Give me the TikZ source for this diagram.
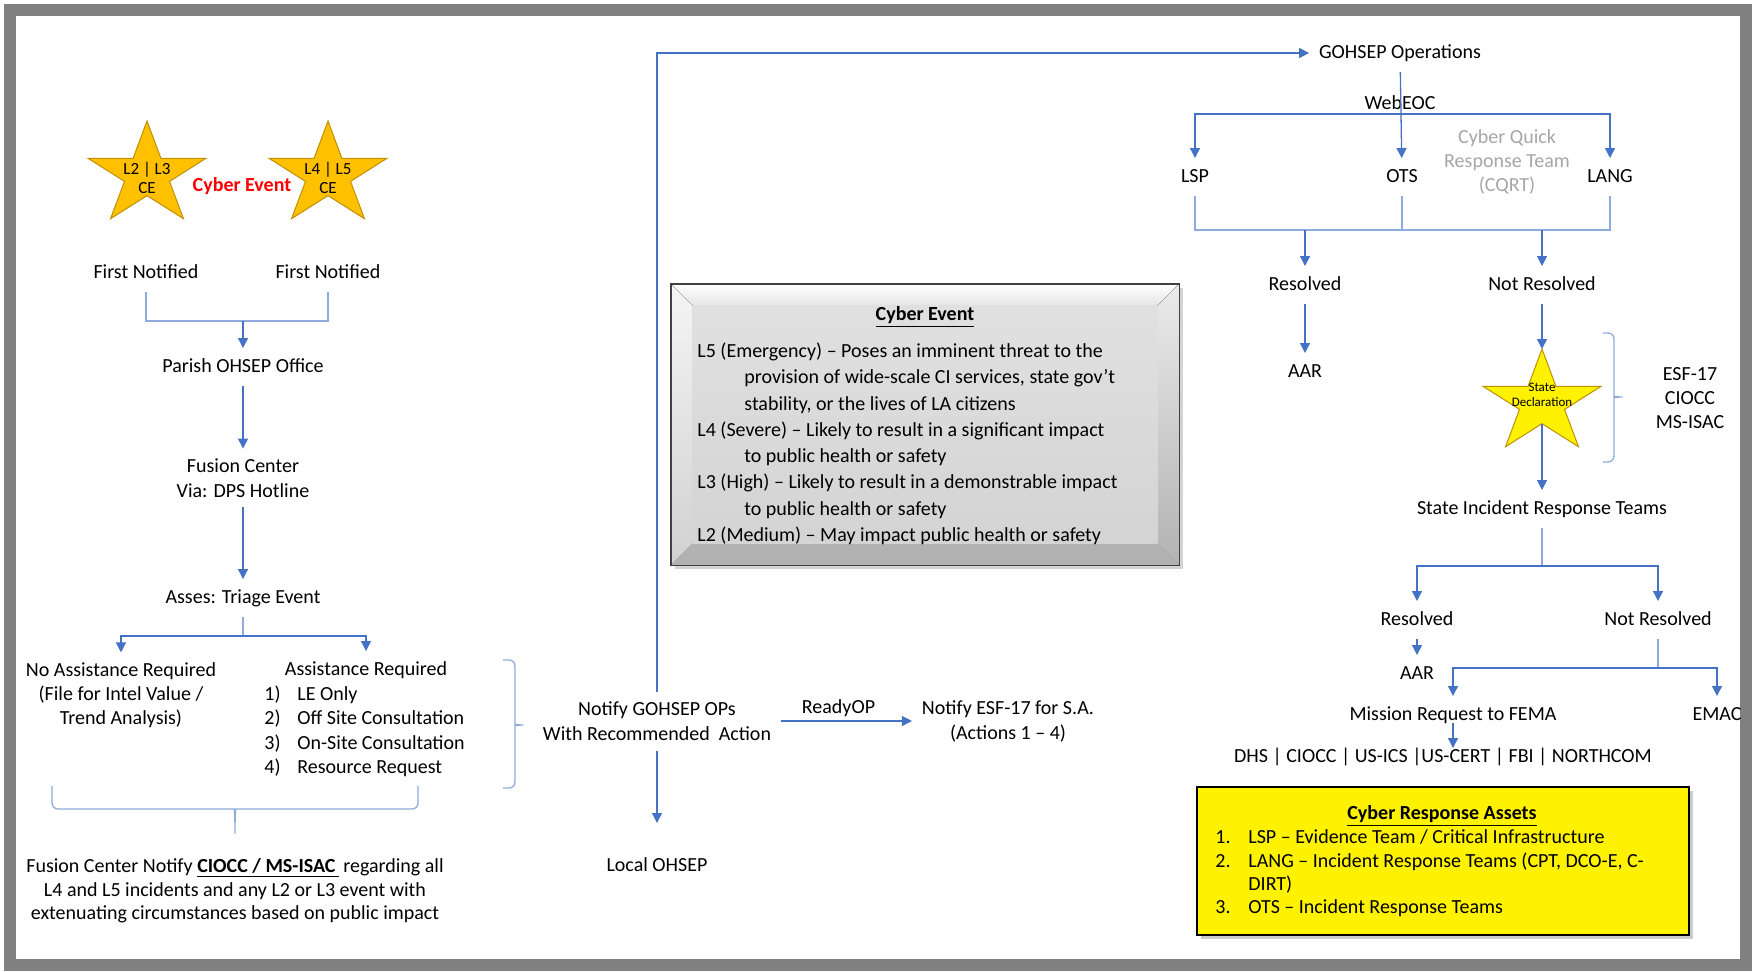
\documentclass[tikz,border=0pt]{standalone}
\usepackage{fontspec}
\setmainfont{Carlito}
\usetikzlibrary{arrows.meta,calc,shadows}
\definecolor{flowblue}{HTML}{4472C4}
\definecolor{flowlight}{HTML}{8FAADC}
\definecolor{stargold}{HTML}{BF9000}
\definecolor{cestarfill}{HTML}{FFC000}
\definecolor{framegray}{HTML}{808080}
\definecolor{cqrtgray}{HTML}{A6A6A6}
\newcommand{\diagfont}{\fontsize{10}{12}\selectfont}
% five point star, stretched like the office one
\newcommand{\ceStar}[2]{%
  \filldraw[fill=#2, draw=stargold, line width=0.5pt, shift={#1}, xscale=62, yscale=54]
    (-90:1) \foreach \k in {1,...,9} { -- ({-90+36*\k}:{1-0.618*mod(\k,2)}) } -- cycle;
}
\tikzset{
  lbl/.style={inner sep=0pt, outer sep=5pt, text height=7pt, text depth=2pt},
  lbls/.style={inner sep=0pt, outer sep=5pt, align=center},
  arr/.style={flowblue, line width=0.65pt, -{Triangle[width=5pt,length=5pt]}},
  link/.style={flowlight, line width=0.65pt},
  curly/.style={flowlight, line width=0.65pt, rounded corners=3pt},
}
\begin{document}
\begin{tikzpicture}[x=0.5pt, y=-0.5pt, font=\diagfont]
\useasboundingbox (0,0) rectangle (1754,971);
% frame
\draw[framegray, line width=6pt] (10,10) rectangle (1746,965);

% left column
\ceStar{(147,175)}{cestarfill}
\ceStar{(328,175)}{cestarfill}
\node[lbls, font=\fontsize{8.5}{9.7}\selectfont] (ce23) at (147,178) {L2 | L3\\CE};
\node[lbls, font=\fontsize{8.5}{9.7}\selectfont] (ce45) at (328,178) {L4 | L5\\CE};
\node[lbl, text=red, font=\diagfont\bfseries] (cyberev) at (242,186) {Cyber Event};
\node[lbl] (first1) at (146,273) {First Notified};
\node[lbl] (first2) at (328,273) {First Notified};
\coordinate (fnjoin) at (243,321);
\node[lbl] (parish) at (243,367) {Parish OHSEP Office};
\node[lbls, font=\fontsize{10}{12.5}\selectfont] (fusion) at (243,478) {Fusion Center\\Via: DPS Hotline};
\node[lbl] (triage) at (243,598) {Asses: Triage Event};
\coordinate (trsplit) at (243,636);
\node[lbls] (noassist) at (121,695) {No Assistance Required\\(File for Intel Value /\\Trend Analysis)};
\node[lbl] (assisthead) at (366,670) {Assistance Required};
\node[anchor=base west, align=left, inner sep=0pt, font=\fontsize{10}{12.17}\selectfont] (assistlist) at (264,773.5)
  {\makebox[16.5pt][l]{1)}LE Only\\\makebox[16.5pt][l]{2)}Off Site Consultation\\
   \makebox[16.5pt][l]{3)}On-Site Consultation\\\makebox[16.5pt][l]{4)}Resource Request};
\node[lbls, font=\fontsize{10}{11.75}\selectfont] (fcnotify) at (235,891)
  {Fusion Center Notify \textbf{\underline{CIOCC / MS-ISAC\,}} regarding all\\L4 and L5 incidents and any L2 or L3 event with\\extenuating circumstances based on public impact};

\draw[link] (first1) |- (fnjoin) -| (first2);
\draw[arr] (fnjoin) -- (parish);
\draw[arr] (parish) -- (fusion);
\draw[arr] (fusion) -- (triage);
\draw[link] (triage) -- (trsplit);
\draw[arr] (trsplit) -| (noassist);
\draw[arr] (trsplit) -| (assisthead);
% braces
\draw[curly] (52,786) |- (229,809) .. controls (234,809) and (235,814) .. (235,837)
  .. controls (235,814) and (236,809) .. (241,809) -| (418,786);
\draw[curly] (503,660) -| (515,719) .. controls (515,724) and (520,725) .. (527,725)
  .. controls (520,725) and (515,726) .. (515,731) |- (503,788);

% middle
\node[lbls, font=\fontsize{10}{12.5}\selectfont] (gohsepnote) at (657,721) {Notify GOHSEP OPs\\With Recommended\ \ Action};
\node[lbl] (localohsep) at (657,866) {Local OHSEP};
\node[lbls, font=\fontsize{10}{12.5}\selectfont] (esfnotify) at (1008,721) {Notify ESF-17 for S.A.\\(Actions 1 – 4)};
\draw[arr] (gohsepnote) -- (esfnotify) node[lbl, outer sep=0pt, text=black, midway, above=2pt, xshift=-4pt] (readyop) {ReadyOP};
\draw[arr, shorten >=12pt] (gohsepnote) -- (localohsep);

% cyber event levels
\node[minimum width=254pt, minimum height=140.5pt, inner sep=0pt, fill=black!15,
  drop shadow={shadow xshift=2pt, shadow yshift=-2pt, opacity=0.35}] (cebox) at (925,424.5) {};
\fill[top color=white, bottom color=black!10] (cebox.north west) -- (cebox.north east)
  -- ($(cebox.north east)+(-22,22)$) -- ($(cebox.north west)+(22,22)$) -- cycle;
\fill[top color=black!4, bottom color=black!18] (cebox.north west) -- ($(cebox.north west)+(22,22)$)
  -- ($(cebox.south west)+(22,-22)$) -- (cebox.south west) -- cycle;
\fill[top color=black!8, bottom color=black!30] (cebox.north east) -- ($(cebox.north east)+(-22,22)$)
  -- ($(cebox.south east)+(-22,-22)$) -- (cebox.south east) -- cycle;
\fill[black!30] (cebox.south west) -- ($(cebox.south west)+(22,-22)$)
  -- ($(cebox.south east)+(-22,-22)$) -- (cebox.south east) -- cycle;
\fill[top color=black!12, bottom color=black!17] ($(cebox.north west)+(22,22)$) rectangle ($(cebox.south east)+(-22,-22)$);
\draw[black!75, line width=0.9pt] (cebox.north west) rectangle (cebox.south east);
\node[lbl, font=\diagfont\bfseries] (cetitle) at (925,315) {\underline{Cyber Event}};
\node[anchor=base west, align=left, inner sep=0pt, font=\fontsize{10}{13.15}\selectfont] (celevels) at (697,541.5)
  {L5 (Emergency) – Poses an imminent threat to the\\
   \hspace*{23.5pt}provision of wide-scale CI services, state gov’t\\
   \hspace*{23.5pt}stability, or the lives of LA citizens\\
   L4 (Severe) – Likely to result in a significant impact\\
   \hspace*{23.5pt}to public health or safety\\
   L3 (High) – Likely to result in a demonstrable impact\\
   \hspace*{23.5pt}to public health or safety\\
   L2 (Medium) – May impact public health or safety};

% state side
\node[lbl] (gohsepops) at (1400,53) {GOHSEP Operations};
\draw[arr] (gohsepnote) |- (gohsepops);
\node[lbl] (webeoc) at (1400,104) {WebEOC};
\node[lbl] (lsp) at (1195,177) {LSP};
\node[lbl] (ots) at (1402,177) {OTS};
\node[lbl] (lang) at (1610,177) {LANG};
\node[lbls, text=cqrtgray] (cqrt) at (1507,162) {Cyber Quick\\Response Team\\(CQRT)};
\coordinate (webjoin) at (1402,114);
\coordinate (teamjoin) at (1402,230);
\draw[arr] (gohsepops) -- (ots);
\draw[arr] (webjoin) -| (lsp);
\draw[arr] (webjoin) -| (lang);
\node[lbl] (res1) at (1305,285) {Resolved};
\node[lbl] (notres1) at (1542,285) {Not Resolved};
\draw[link] (lsp) |- (teamjoin) -| (lang);
\draw[link] (ots) -- (teamjoin);
\draw[arr] (res1 |- teamjoin) -- (res1);
\draw[arr] (notres1 |- teamjoin) -- (notres1);
\node[lbl] (aar1) at (1305,372) {AAR};
\draw[arr] (res1) -- (aar1);

\ceStar{(1542,403)}{yellow}
\coordinate (sdtop) at (1542,349);
\coordinate (sdbot) at (1542,424);
\node[lbls, font=\fontsize{6.5}{7.3}\selectfont] (sdlabel) at (1542,395) {State\\Declaration};
\draw[arr] (notres1) -- (sdtop);
\draw[curly] (1603,333) -| (1614,391) .. controls (1614,396) and (1619,397) .. (1626,397)
  .. controls (1619,397) and (1614,398) .. (1614,403) |- (1603,462);
\node[lbls] (esfgroup) at (1690,398) {ESF-17\\CIOCC\\MS-ISAC};

\node[lbl] (sirt) at (1542,509) {State Incident Response Teams};
\draw[arr] (sdbot) -- (sirt);
\coordinate (sirtsplit) at (1542,566);
\node[lbl] (res2) at (1417,620) {Resolved};
\node[lbl] (notres2) at (1658,620) {Not Resolved};
\draw[link] (sirt) -- (sirtsplit);
\draw[arr] (sirtsplit) -| (res2);
\draw[arr] (sirtsplit) -| (notres2);
\node[lbl] (aar2) at (1417,674) {AAR};
\draw[arr] (res2) -- (aar2);
\coordinate (nrsplit) at (1658,668);
\node[lbl] (mission) at (1453,715) {Mission Request to FEMA};
\node[lbl] (emac) at (1717,715) {EMAC};
\draw[link] (notres2) -- (nrsplit);
\draw[arr] (nrsplit) -| (mission);
\draw[arr] (nrsplit) -| (emac);
\node[lbl] (agencies) at (1443,757) {DHS | CIOCC | US-ICS |US-CERT | FBI | NORTHCOM};
\draw[arr, shorten <=-5.5pt, shorten >=-5pt] (mission.south) -- (mission.south |- agencies.north);

% response assets
\node[draw, line width=0.9pt, fill=yellow, minimum width=246pt, minimum height=74pt, inner sep=0pt,
  drop shadow={shadow xshift=2pt, shadow yshift=-2pt, opacity=0.4}] (assetsbox) at (1443,861) {};
\node[lbl, font=\diagfont\bfseries] (assetstitle) at (1442,814) {\underline{Cyber Response Assets}};
\node[anchor=base west, align=left, inner sep=0pt, font=\fontsize{10}{11.6}\selectfont] (assetslist) at (1215,913.5)
  {\makebox[16.5pt][l]{1.}LSP – Evidence Team / Critical Infrastructure\\
   \makebox[16.5pt][l]{2.}LANG – Incident Response Teams (CPT, DCO-E, C-\\
   \hspace*{16.5pt}DIRT)\\
   \makebox[16.5pt][l]{3.}OTS – Incident Response Teams};
\end{tikzpicture}
\end{document}
